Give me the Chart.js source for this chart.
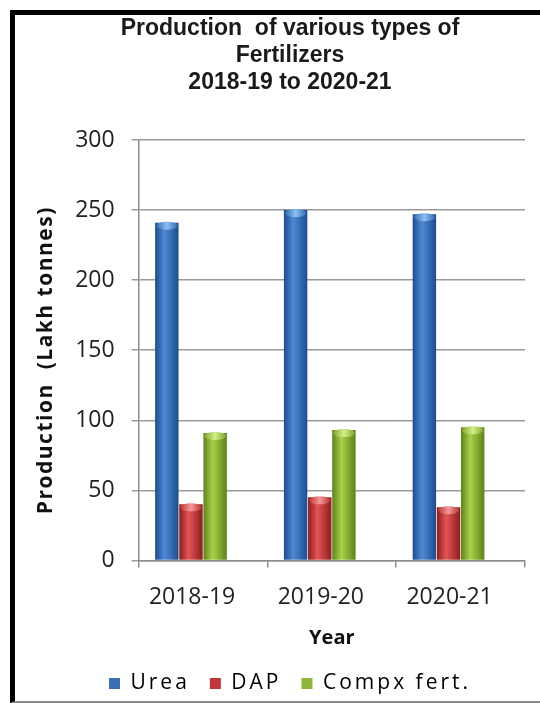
<!DOCTYPE html>
<html><head><meta charset="utf-8">
<script src="https://cdn.jsdelivr.net/npm/chart.js@4/dist/chart.umd.min.js"></script>
<style>
html,body{margin:0;padding:0;background:#fff;width:540px;height:703px;overflow:hidden;}
#frame{position:absolute;left:10px;top:10px;width:560px;height:686px;border-left:5px solid #000;border-top:5px solid #000;border-bottom:2px solid #8a8a8a;}
#wrap{position:absolute;left:30px;top:15px;width:520px;height:689px;}
</style></head><body>
<div id="frame"></div>
<div id="wrap"><canvas id="c"></canvas></div>
<script>
const categories = ['2018-19', '2019-20', '2020-21'];
const urea = [241, 250, 247];
const dap = [40, 45, 38];
const compx = [91, 93, 95];
const yTicks = [0, 50, 100, 150, 200, 250, 300];
const titleLines = ['Production  of various types of', 'Fertilizers', '2018-19 to 2020-21'];

const shades = {
  Urea: ['#1d4c8c', '#4f8ad6', '#2a63ad'],
  DAP: ['#8e1c1e', '#e45555', '#b52a2d'],
  'Compx fert.': ['#5f8219', '#a9d248', '#7da22a']
};
const caps = { Urea: '#8cc0f0', DAP: '#f59a9a', 'Compx fert.': '#d2ee88' };
const base = { Urea: '#3a6fb6', DAP: '#c0343a', 'Compx fert.': '#8db53a' };

const cylPlugin = {
  id: 'cyl',
  beforeDatasetsDraw(chart) {
    const ctx = chart.ctx;
    chart.data.datasets.forEach((ds, i) => {
      const s = shades[ds.label];
      if (!s) return;
      chart.getDatasetMeta(i).data.forEach(el => {
        const l = el.x - el.width / 2, r = el.x + el.width / 2;
        const g = ctx.createLinearGradient(l, 0, r, 0);
        g.addColorStop(0, s[0]);
        g.addColorStop(0.4, s[1]);
        g.addColorStop(1, s[0]);
        el.options.backgroundColor = g;
      });
    });
  },
  afterDatasetsDraw(chart) {
    const ctx = chart.ctx;
    chart.data.datasets.forEach((ds, i) => {
      const c = caps[ds.label];
      if (!c) return;
      chart.getDatasetMeta(i).data.forEach(el => {
        ctx.save();
        const g = ctx.createLinearGradient(el.x - el.width / 2, 0, el.x + el.width / 2, 0);
        g.addColorStop(0, shades[ds.label][2]);
        g.addColorStop(0.5, c);
        g.addColorStop(1, shades[ds.label][2]);
        ctx.fillStyle = g;
        ctx.beginPath();
        ctx.ellipse(el.x, el.y + 3, el.width / 2 - 1, 4, 0, 0, Math.PI * 2);
        ctx.fill();
        ctx.restore();
      });
    });
  }
};

function withSpacing(obj, name, sp, dy) {
  const orig = obj[name];
  obj[name] = function (...args) {
    const c = this.ctx || (this.chart && this.chart.ctx);
    c.save();
    c.letterSpacing = sp;
    if (dy) c.translate(0, dy);
    const r = orig.apply(this, args);
    c.restore();
    return r;
  };
}

const spacingPlugin = {
  id: 'spacing',
  beforeLayout(chart) {
    const lg = chart.legend;
    if (lg && !lg._sp) {
      lg._sp = true;
      withSpacing(lg, 'fit', '3px');
      withSpacing(lg, 'draw', '3px');
    }
    const y = chart.scales.y;
    if (y && !y._sp) {
      y._sp = true;
      withSpacing(y, 'drawTitle', '1.5px', 10);
    }
  }
};

new Chart(document.getElementById('c'), {
  type: 'bar',
  data: {
    labels: categories,
    datasets: [
      { label: 'Urea', data: urea, backgroundColor: () => base.Urea },
      { label: 'DAP', data: dap, backgroundColor: () => base.DAP },
      { label: 'Compx fert.', data: compx, backgroundColor: () => base['Compx fert.'] },
      { label: '', data: [null, null, null], backgroundColor: 'rgba(0,0,0,0)' }
    ]
  },
  plugins: [cylPlugin, spacingPlugin],
  options: {
    responsive: true,
    maintainAspectRatio: false,
    animation: false,
    categoryPercentage: 0.75,
    barPercentage: 0.97,
    layout: { padding: { left: 0, right: 0, top: 0, bottom: 0 } },
    plugins: {
      title: {
        display: true,
        text: titleLines,
        color: '#1a1a1a',
        font: { family: 'Liberation Sans', size: 23, weight: 'bold', lineHeight: 1.174 },
        padding: { top: 0, bottom: 44 }
      },
      legend: {
        position: 'bottom',
        labels: {
          color: '#222',
          font: { family: 'Open Sans', size: 21 },
          boxWidth: 11, boxHeight: 11,
          padding: 20,
          generateLabels: chart => chart.data.datasets.filter(d => d.label).map((d, i) => ({
            text: d.label, fillStyle: base[d.label], strokeStyle: base[d.label], lineWidth: 0, datasetIndex: i
          }))
        }
      },
      tooltip: { enabled: false }
    },
    scales: {
      x: {
        grid: { display: true, drawOnChartArea: false, offset: true, color: '#8c8c8c', lineWidth: 1.5, tickLength: 7 },
        border: { color: '#8c8c8c', width: 1.5 },
        ticks: { color: '#222', font: { family: 'Open Sans', size: 23 }, padding: 16, labelOffset: -11 },
        title: { display: true, text: 'Year', color: '#111', font: { family: 'Open Sans', size: 20, weight: 'bold' }, padding: { top: -1, bottom: 3 } }
      },
      y: {
        min: 0, max: 300,
        afterBuildTicks: s => { s.ticks = yTicks.map(v => ({ value: v })); },
        grid: { color: '#9a9a9a', lineWidth: 1.5, tickLength: 7 },
        border: { color: '#8c8c8c', width: 1.5 },
        ticks: { color: '#222', font: { family: 'Open Sans', size: 23 }, padding: 17 },
        title: { display: true, text: 'Production  (Lakh tonnes)', color: '#111', font: { family: 'Open Sans', size: 21, weight: 'bold' }, padding: { top: 3, bottom: 0 } }
      },
      yr: {
        position: 'right',
        display: true,
        grid: { display: false },
        border: { display: false },
        ticks: { display: false },
        afterFit: s => { s.width = 25; }
      }
    }
  }
});
</script>
</body></html>
